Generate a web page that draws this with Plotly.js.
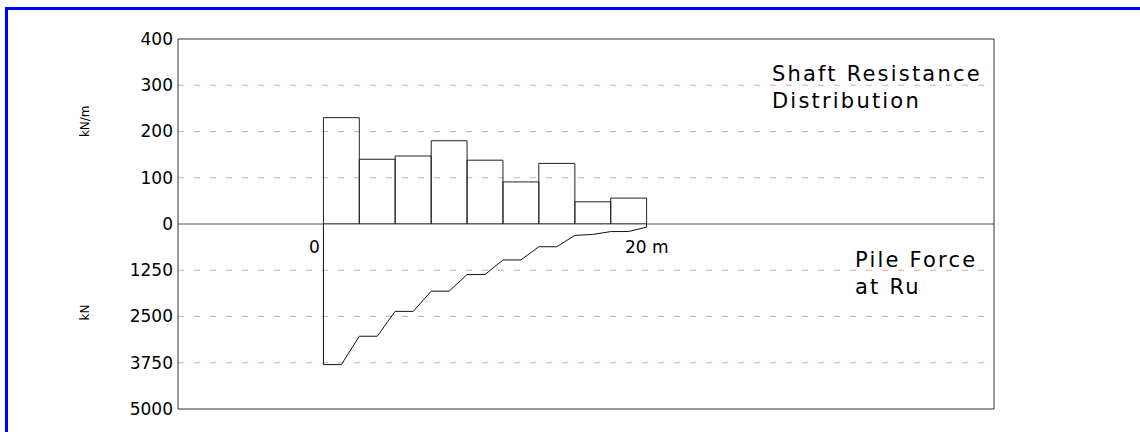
<!DOCTYPE html>
<html><head><meta charset="utf-8">
<script src="https://cdn.plot.ly/plotly-3.0.1.min.js"></script>
<style>
html,body{margin:0;padding:0;background:#fff;overflow:hidden}
#chart{width:1140px;height:432px}
#frame{position:absolute;left:5px;top:7px;width:1300px;height:600px;border-left:3px solid #0000ff;border-top:3px solid #0000ff;pointer-events:none}
</style></head><body>
<div id="chart"></div><div id="frame"></div>
<script>
// Data
const segmentEdges = [0, 2.22, 4.44, 6.67, 8.89, 11.11, 13.33, 15.56, 17.78, 20];   // m
const shaftResistance = [230, 140, 147, 180, 138, 91, 131, 48, 56];               // kN/m
const forceDepth = [0, 0, 1.11, 2.22, 3.33, 4.44, 5.56, 6.67, 7.78, 8.89, 10.0, 11.11, 12.22, 13.33, 14.44, 15.56, 16.67, 17.78, 18.89, 20, 20]; // m
const pileForce  = [0, 3800, 3800, 3033, 3033, 2361, 2361, 1815, 1815, 1366, 1366, 972, 972, 614, 614, 309, 282, 205, 202, 85, 0];       // kN
const upperTicks = [0, 100, 200, 300, 400];
const lowerTicks = [1250, 2500, 3750, 5000];
const upperGrid = [100, 200, 300];
const lowerGrid = [1250, 2500, 3750];
const depthTickVals = [0, 20];
const depthTickText = ['0', '20 m'];
const upperLabel = 'Shaft Resistance<br>Distribution';
const lowerLabel = 'Pile Force<br>at Ru';
const upperUnit = 'kN/m';
const lowerUnit = 'kN';

const barCenters = shaftResistance.map((_, i) => (segmentEdges[i] + segmentEdges[i + 1]) / 2);
const barWidths = shaftResistance.map((_, i) => segmentEdges[i + 1] - segmentEdges[i]);

const FONT = 'DejaVu Sans, Arial, sans-serif';
const GRID = '#ff9a9a';

const traces = [
  {type: 'bar', x: barCenters, y: shaftResistance, width: barWidths, xaxis: 'x', yaxis: 'y',
   marker: {color: 'rgba(255,255,255,0)', line: {color: '#222', width: 1}}, hoverinfo: 'none'},
  {type: 'scatter', mode: 'lines', x: forceDepth, y: pileForce, xaxis: 'x', yaxis: 'y2',
   line: {color: '#111', width: 1}, hoverinfo: 'none'}
];

const annotations = [
  {text: upperLabel, xref: 'paper', yref: 'paper', x: 0.7255, y: 0.943, xanchor: 'left', yanchor: 'top', align: 'left', showarrow: false, font: {family: FONT, size: 21, color: '#000'}},
  {text: lowerLabel, xref: 'paper', yref: 'paper', x: 0.827, y: 0.44, xanchor: 'left', yanchor: 'top', align: 'left', showarrow: false, font: {family: FONT, size: 21, color: '#000'}},
  {text: upperUnit, xref: 'paper', yref: 'paper', x: -0.114, y: 0.778, xanchor: 'center', yanchor: 'middle', textangle: -90, showarrow: false, font: {family: FONT, size: 12, color: '#000'}},
  {text: lowerUnit, xref: 'paper', yref: 'paper', x: -0.114, y: 0.261, xanchor: 'center', yanchor: 'middle', textangle: -90, showarrow: false, font: {family: FONT, size: 12, color: '#000'}}
];
depthTickVals.forEach((v, i) => {
  annotations.push({text: depthTickText[i], xref: 'x', yref: 'paper', x: v, y: 0.438,
    xanchor: i === 0 ? 'right' : 'center', yanchor: 'middle', xshift: i === 0 ? -1 : 0,
    showarrow: false, font: {family: FONT, size: 17, color: '#000'}});
});

const shapes = [];
upperGrid.forEach(v => shapes.push({type: 'line', xref: 'paper', yref: 'y', x0: 0, x1: 1, y0: v, y1: v,
  line: {color: GRID, width: 1, dash: '6px,10px'}, layer: 'below'}));
lowerGrid.forEach(v => shapes.push({type: 'line', xref: 'paper', yref: 'y2', x0: 0, x1: 1, y0: v, y1: v,
  line: {color: GRID, width: 1, dash: '6px,10px'}, layer: 'below'}));
shapes.push({type: 'line', xref: 'paper', yref: 'paper', x0: 0, x1: 1, y0: 0.5, y1: 0.5, line: {color: '#a8a8a8', width: 2}, layer: 'below'});
shapes.push({type: 'rect', xref: 'paper', yref: 'paper', x0: 0, x1: 1, y0: 0, y1: 1, line: {color: '#333', width: 1}, layer: 'above'});

const layout = {
  width: 1140, height: 432,
  margin: {l: 178, r: 146, t: 39, b: 23, pad: 0},
  paper_bgcolor: '#fff', plot_bgcolor: 'rgba(0,0,0,0)',
  showlegend: false, bargap: 0,
  font: {family: FONT, color: '#000'},
  xaxis: {range: [-9, 41.5], visible: false, fixedrange: true},
  yaxis: {domain: [0.5, 1], range: [0, 400], tickvals: upperTicks, ticks: '', zeroline: false, showline: false, showgrid: false,
    tickfont: {family: FONT, size: 17, color: '#000'}, ticklabelstandoff: 4, anchor: 'x', fixedrange: true},
  yaxis2: {domain: [0, 0.5], range: [5000, 0], tickvals: lowerTicks, ticks: '', zeroline: false, showline: false, showgrid: false,
    tickfont: {family: FONT, size: 17, color: '#000'}, ticklabelstandoff: 4, anchor: 'x', fixedrange: true},
  shapes: shapes,
  annotations: annotations
};

Plotly.newPlot('chart', traces, layout, {staticPlot: true, displayModeBar: false}).then(() => {
  document.querySelectorAll('.annotation[data-index="0"] text, .annotation[data-index="1"] text').forEach(t => {
    t.style.letterSpacing = '2.2px';
  });
});
</script>
</body></html>
